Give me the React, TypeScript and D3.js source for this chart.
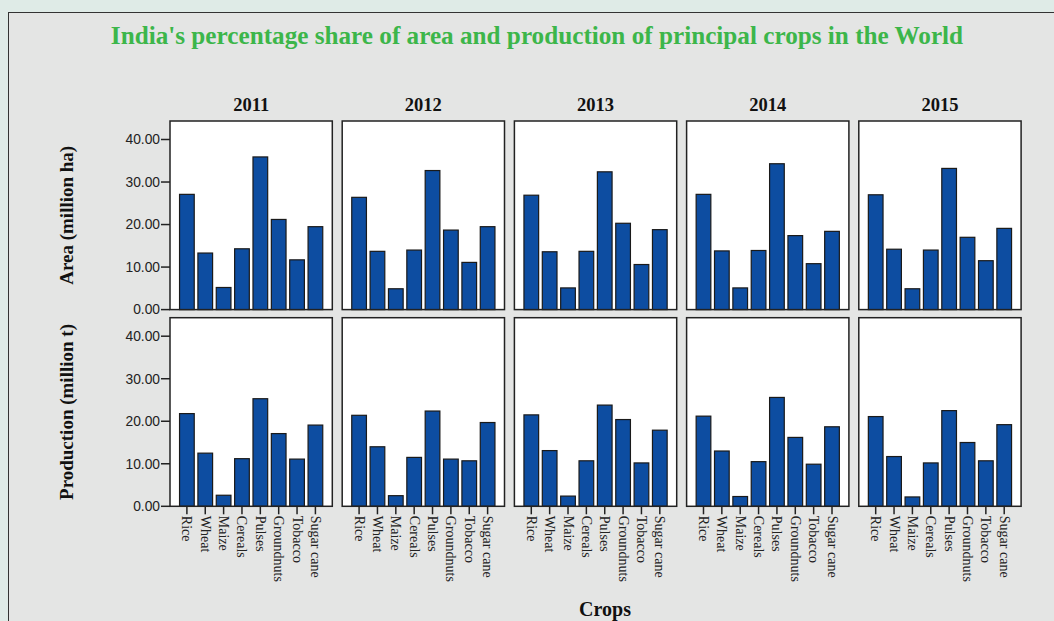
import React from 'react';
import * as d3 from 'd3';

const years = ['2011', '2012', '2013', '2014', '2015'];
const crops = ['Rice', 'Wheat', 'Maize', 'Cereals', 'Pulses', 'Groundnuts', 'Tobacco', 'Sugar cane'];

const area2011 = [27.1, 13.3, 5.2, 14.3, 35.9, 21.2, 11.7, 19.5];
const area2012 = [26.4, 13.7, 4.9, 14.0, 32.7, 18.7, 11.1, 19.5];
const area2013 = [26.9, 13.6, 5.1, 13.7, 32.4, 20.3, 10.6, 18.8];
const area2014 = [27.1, 13.8, 5.1, 13.9, 34.3, 17.4, 10.8, 18.4];
const area2015 = [27.0, 14.2, 4.9, 14.0, 33.2, 17.0, 11.5, 19.1];

const prod2011 = [21.8, 12.5, 2.6, 11.2, 25.3, 17.1, 11.1, 19.1];
const prod2012 = [21.4, 14.0, 2.5, 11.5, 22.4, 11.1, 10.7, 19.7];
const prod2013 = [21.5, 13.1, 2.4, 10.7, 23.8, 20.4, 10.2, 17.9];
const prod2014 = [21.2, 13.0, 2.3, 10.5, 25.6, 16.2, 9.9, 18.7];
const prod2015 = [21.1, 11.7, 2.2, 10.2, 22.5, 15.0, 10.7, 19.2];

const yTicks = [0, 10, 20, 30, 40];
const rowTitles = ['Area (million ha)', 'Production (million t)'];

const rows = [
  [area2011, area2012, area2013, area2014, area2015],
  [prod2011, prod2012, prod2013, prod2014, prod2015],
];

const W = 1054;
const H = 621;
const panelLeft = 170;
const panelW = 162.3;
const panelGap = 9.9;
const rowTops = [121, 317.7];
const panelH = 188.6;
const serif = '"Liberation Serif", "Times New Roman", serif';
const sans = '"Liberation Sans", Arial, sans-serif';

export default function App() {
  const y = d3.scaleLinear().domain([0, 44.35]).range([panelH, 0]);
  const x = d3.scaleBand<string>().domain(crops).range([0, panelW]).paddingInner(0.2).paddingOuter(0.52);
  const fmt = d3.format('.2f');

  return (
    <svg width={W} height={H} style={{ position: 'absolute', left: 0, top: 0, display: 'block' }}>
      <rect x={0} y={0} width={W} height={H} fill="#dfebe7" />
      <rect x={8.5} y={12.5} width={W + 20} height={H + 20} fill="#e4e5e4" stroke="#333" strokeWidth={1} />
      <text x={537} y={44} textAnchor="middle" fontFamily={serif} fontWeight="bold" fontSize={25.2} fill="#3cb64a">
        India's percentage share of area and production of principal crops in the World
      </text>
      {years.map((yr, c) => (
        <text key={yr} x={panelLeft + c * (panelW + panelGap) + panelW / 2} y={111} textAnchor="middle"
          fontFamily={serif} fontWeight="bold" fontSize={18.5} fill="#111">{yr}</text>
      ))}
      {rows.map((rowData, r) => (
        <g key={r}>
          <text transform={`translate(73,${rowTops[r] + panelH / 2}) rotate(-90)`} textAnchor="middle"
            fontFamily={serif} fontWeight="bold" fontSize={19} fill="#111">{rowTitles[r]}</text>
          <g transform={`translate(${panelLeft},${rowTops[r]})`}>
            {yTicks.map(t => (
              <g key={t} transform={`translate(0,${y(t)})`}>
                <line x1={-9} x2={0} stroke="#222" strokeWidth={1.5} />
                <text x={-10} dy="0.35em" textAnchor="end" fontFamily={sans} fontSize={13.8} fill="#222">{fmt(t)}</text>
              </g>
            ))}
          </g>
          {rowData.map((vals, c) => {
            const px = panelLeft + c * (panelW + panelGap);
            return (
              <g key={c} transform={`translate(${px},${rowTops[r]})`}>
                <rect x={0} y={0} width={panelW} height={panelH} fill="#fff" />
                {vals.map((v, i) => (
                  <rect key={i} x={x(crops[i])} y={y(v)} width={x.bandwidth()} height={y(0) - y(v)}
                    fill="#0d4da1" stroke="#1a1a1a" strokeWidth={1.2} />
                ))}
                <rect x={0} y={0} width={panelW} height={panelH} fill="none" stroke="#222" strokeWidth={1.5} />
                {r === 1 && crops.map(cr => {
                  const cx = (x(cr) as number) + x.bandwidth() / 2;
                  return (
                    <g key={cr}>
                      <line x1={cx} x2={cx} y1={panelH} y2={panelH + 8} stroke="#222" strokeWidth={1.5} />
                      <text transform={`translate(${cx},${panelH + 9.5}) rotate(90)`} dy="0.32em"
                        fontFamily={serif} fontSize={14} fill="#222">{cr}</text>
                    </g>
                  );
                })}
              </g>
            );
          })}
        </g>
      ))}
      <text x={605} y={616} textAnchor="middle" fontFamily={serif} fontWeight="bold" fontSize={20} fill="#111">Crops</text>
    </svg>
  );
}
